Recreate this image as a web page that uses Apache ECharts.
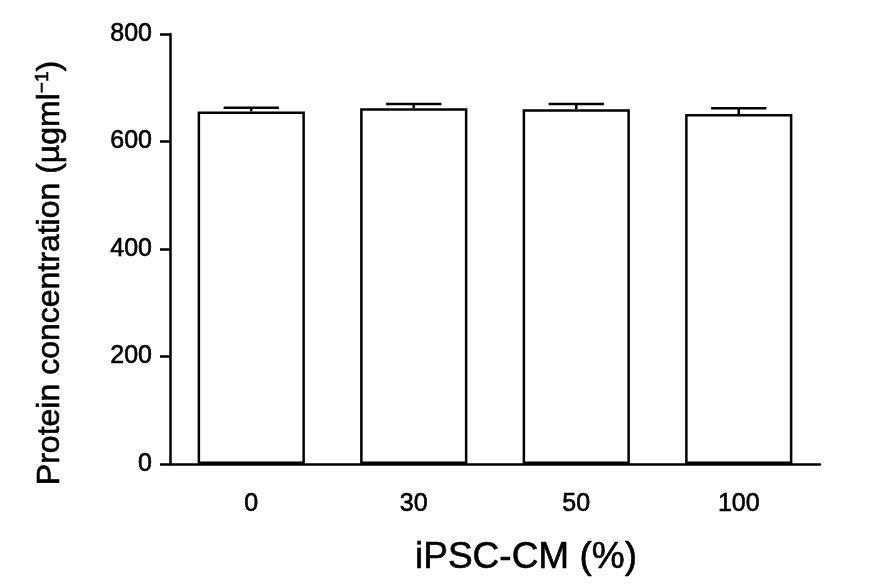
<!DOCTYPE html>
<html>
<head>
<meta charset="utf-8">
<script src="https://cdn.jsdelivr.net/npm/echarts@6/dist/echarts.min.js"></script>
<style>html,body{margin:0;padding:0;background:#fff}#c{width:878px;height:587px}</style>
</head>
<body>
<div id="c"></div>
<script>
const categories = ['0', '30', '50', '100'];
const means = [656, 662, 660, 651];
const errors = [7, 8, 10, 11];
const yTicks = [0, 200, 400, 600, 800];

const chart = echarts.init(document.getElementById('c'), null, {renderer: 'canvas'});
const font = 'Liberation Sans, Arial, Helvetica, sans-serif';
const errData = means.map((m, i) => [i, m, m + errors[i]]);
const thick = {textBorderColor: '#000', textBorderWidth: 0.6};

chart.setOption({
  animation: false,
  backgroundColor: '#fff',
  grid: {left: 170, right: 58, top: 34, bottom: 123},
  xAxis: {
    type: 'category',
    data: categories,
    boundaryGap: true,
    name: 'iPSC-CM (%)',
    nameLocation: 'middle',
    nameGap: 75,
    nameTextStyle: Object.assign({fontFamily: font, fontSize: 37, color: '#000', padding: [0, 0, 0, 62]}, thick),
    axisLine: {lineStyle: {color: '#000', width: 2.5}},
    axisTick: {alignWithLabel: true, length: 12, lineStyle: {color: '#000', width: 2.5}},
    axisLabel: Object.assign({fontFamily: font, fontSize: 25, color: '#000', margin: 28}, thick)
  },
  yAxis: {
    type: 'value',
    min: 0, max: 800, interval: 200,
    name: '{a|Protein concentration (µgml}{s|−1}{a|)}',
    nameLocation: 'middle',
    nameGap: 103,
    nameRotate: 90,
    nameTextStyle: {
      fontFamily: font, color: '#000',
      padding: [0, 48, 0, 0],
      rich: {
        a: Object.assign({fontFamily: font, fontSize: 32, color: '#000'}, thick),
        s: Object.assign({fontFamily: font, fontSize: 19, color: '#000', verticalAlign: 'top', padding: [0, 0, 15, 0]}, thick)
      }
    },
    splitLine: {show: false},
    axisLine: {show: true, lineStyle: {color: '#000', width: 2.5}},
    axisTick: {show: true, length: 10, lineStyle: {color: '#000', width: 2.5}},
    axisLabel: Object.assign({fontFamily: font, fontSize: 25, color: '#000', margin: 18,
      formatter: v => yTicks.includes(v) ? String(v) : ''}, thick)
  },
  series: [
    {
      type: 'bar',
      data: means,
      barWidth: '66%',
      itemStyle: {color: '#fff', borderColor: '#000', borderWidth: 2.5}
    },
    {
      type: 'custom',
      data: errData,
      z: 5,
      renderItem: function (params, api) {
        const x = api.value(0);
        const lo = api.coord([x, api.value(1)]);
        const hi = api.coord([x, api.value(2)]);
        const half = api.size([1, 0])[0] * 0.17;
        const st = {stroke: '#000', lineWidth: 2.5};
        return {
          type: 'group',
          children: [
            {type: 'line', shape: {x1: lo[0], y1: lo[1], x2: hi[0], y2: hi[1]}, style: st},
            {type: 'line', shape: {x1: hi[0] - half, y1: hi[1], x2: hi[0] + half, y2: hi[1]}, style: st}
          ]
        };
      }
    }
  ]
});
</script>
</body>
</html>
